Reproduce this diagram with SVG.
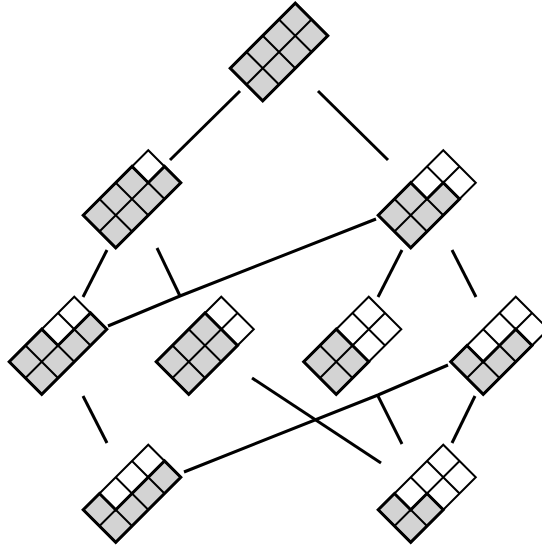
<svg xmlns="http://www.w3.org/2000/svg" xmlns:xlink="http://www.w3.org/1999/xlink" width="542" height="549" viewBox="0 0 542 549">
<style>
.bg{fill:#fff;stroke:none}
.g{fill:#d3d3d3;stroke:none}
.grid{fill:none;stroke:#000;stroke-width:2}
.gb{fill:none;stroke:#000;stroke-width:3;stroke-linejoin:miter}
.e{fill:none;stroke:#000;stroke-width:3;stroke-linejoin:round}
</style>
<defs>
<rect id="bg" class="bg" x="-46" y="-23" width="92" height="46"/>
<path id="grid" class="grid" d="M-46,-23H46V23H-46Z M-23,-23V23 M0,-23V23 M23,-23V23 M-46,0H46"/>
</defs>
<g id="connectors">
<line class="e" x1="240" y1="91" x2="170" y2="160"/>
<line class="e" x1="318" y1="91" x2="388" y2="160"/>
<line class="e" x1="107" y1="250" x2="83" y2="297"/>
<line class="e" x1="157" y1="248" x2="180" y2="296"/>
<polyline class="e" points="376,219 180,296 108,326"/>
<line class="e" x1="402" y1="250" x2="378" y2="297"/>
<line class="e" x1="452" y1="250" x2="476" y2="297"/>
<line class="e" x1="83" y1="396" x2="107" y2="443"/>
<line class="e" x1="252" y1="378" x2="381" y2="463"/>
<line class="e" x1="378" y1="396" x2="402" y2="444"/>
<polyline class="e" points="448,365 378,395 184,472"/>
<line class="e" x1="475" y1="396" x2="452" y2="443"/>
</g>
<g id="n1" transform="translate(279,52) rotate(-45)">
<use href="#bg"/><polygon class="g" points="-46,-23 46,-23 46,23 -46,23"/><use href="#grid"/><polygon class="gb" points="-46,-23 46,-23 46,23 -46,23"/>
</g>
<g id="n2" transform="translate(132,199) rotate(-45)">
<use href="#bg"/><polygon class="g" points="-46,-23 23,-23 23,0 46,0 46,23 -46,23"/><use href="#grid"/><polygon class="gb" points="-46,-23 23,-23 23,0 46,0 46,23 -46,23"/>
</g>
<g id="n3" transform="translate(427,199) rotate(-45)">
<use href="#bg"/><polygon class="g" points="-46,-23 0,-23 0,0 23,0 23,23 -46,23"/><use href="#grid"/><polygon class="gb" points="-46,-23 0,-23 0,0 23,0 23,23 -46,23"/>
</g>
<g id="n4" transform="translate(58,345.5) rotate(-45)">
<use href="#bg"/><polygon class="g" points="-46,-23 0,-23 0,0 46,0 46,23 -46,23"/><use href="#grid"/><polygon class="gb" points="-46,-23 0,-23 0,0 46,0 46,23 -46,23"/>
</g>
<g id="n5" transform="translate(205,345.5) rotate(-45)">
<use href="#bg"/><polygon class="g" points="-46,-23 23,-23 23,23 -46,23"/><use href="#grid"/><polygon class="gb" points="-46,-23 23,-23 23,23 -46,23"/>
</g>
<g id="n6" transform="translate(352.5,345.5) rotate(-45)">
<use href="#bg"/><polygon class="g" points="-46,-23 0,-23 0,23 -46,23"/><use href="#grid"/><polygon class="gb" points="-46,-23 0,-23 0,23 -46,23"/>
</g>
<g id="n7" transform="translate(499.5,345.5) rotate(-45)">
<use href="#bg"/><polygon class="g" points="-46,-23 -23,-23 -23,0 23,0 23,23 -46,23"/><use href="#grid"/><polygon class="gb" points="-46,-23 -23,-23 -23,0 23,0 23,23 -46,23"/>
</g>
<g id="n8" transform="translate(132,493.5) rotate(-45)">
<use href="#bg"/><polygon class="g" points="-46,-23 -23,-23 -23,0 46,0 46,23 -46,23"/><use href="#grid"/><polygon class="gb" points="-46,-23 -23,-23 -23,0 46,0 46,23 -46,23"/>
</g>
<g id="n9" transform="translate(427,493.5) rotate(-45)">
<use href="#bg"/><polygon class="g" points="-46,-23 -23,-23 -23,0 0,0 0,23 -46,23"/><use href="#grid"/><polygon class="gb" points="-46,-23 -23,-23 -23,0 0,0 0,23 -46,23"/>
</g>
</svg>
